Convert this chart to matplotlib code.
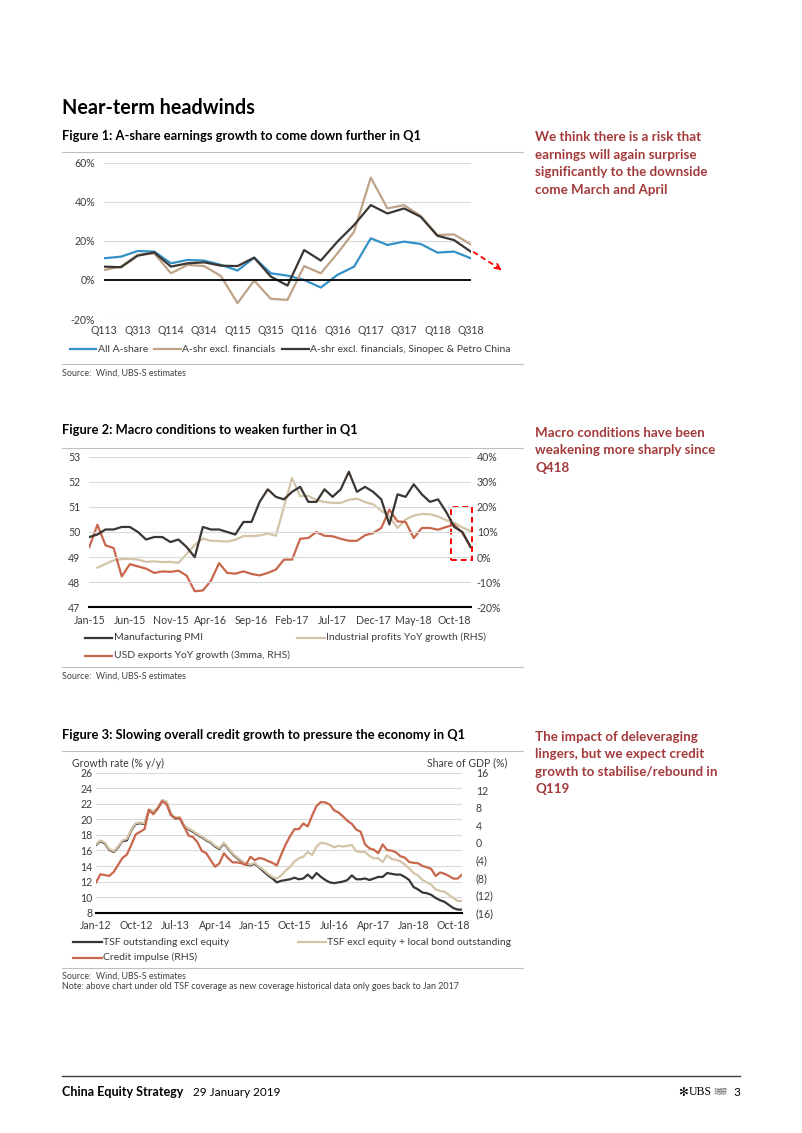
"""Recreate the 'Near-term headwinds' page (three line charts) as out.png."""

import matplotlib
matplotlib.use('Agg')
from matplotlib import pyplot
from matplotlib.lines import Line2D
from matplotlib.patches import Rectangle
import numpy as np

W, H = 802, 1133  # page size in pixels

# Figure 1: A-share earnings growth (% y/y), quarterly Q113-Q318.
quarters = ['Q113', 'Q213', 'Q313', 'Q413', 'Q114', 'Q214', 'Q314', 'Q414',
            'Q115', 'Q215', 'Q315', 'Q415', 'Q116', 'Q216', 'Q316', 'Q416',
            'Q117', 'Q217', 'Q317', 'Q417', 'Q118', 'Q218', 'Q318']
all_ashare = [11.1, 11.9, 14.8, 14.5, 8.5, 10.2, 9.9, 7.7, 4.8, 11.4, 3.4, 2.2,
              0.0, -3.9, 2.6, 6.8, 21.3, 17.9, 19.6, 18.4, 14.0, 14.5, 11.1]
excl_fin = [5.1, 6.8, 12.8, 13.6, 3.4, 7.7, 7.1, 2.0, -11.9, -0.3, -9.7, -10.2,
            7.1, 3.4, 13.6, 24.7, 52.4, 36.6, 38.3, 32.7, 23.0, 23.3, 18.2]
excl_fin_oil = [6.8, 6.5, 12.4, 14.1, 6.8, 8.5, 9.0, 7.3, 7.1, 11.4, 1.7, -2.9,
                15.3, 9.9, 19.6, 28.1, 38.3, 34.0, 36.6, 32.3, 22.6, 20.4, 14.5]

# Figure 2: macro conditions, monthly Jan-15 to Dec-18.
months2_ticks = ['Jan-15', 'Jun-15', 'Nov-15', 'Apr-16', 'Sep-16', 'Feb-17',
                 'Jul-17', 'Dec-17', 'May-18', 'Oct-18']
pmi = [49.8, 49.9, 50.1, 50.1, 50.2, 50.2, 50.0, 49.7, 49.8, 49.8, 49.6, 49.7,
       49.4, 49.0, 50.2, 50.1, 50.1, 50.0, 49.9, 50.4, 50.4, 51.2, 51.7, 51.4,
       51.3, 51.6, 51.8, 51.2, 51.2, 51.7, 51.4, 51.7, 52.4, 51.6, 51.8, 51.6,
       51.3, 50.3, 51.5, 51.4, 51.9, 51.5, 51.2, 51.3, 50.8, 50.2, 50.0, 49.4]
ind_profits = [None, -4.2, -2.7, -1.3, -0.8, -0.7, -1.0, -1.9, -1.7, -2.0, -1.9, -2.3,
               None, 4.8, 7.4, 6.5, 6.4, 6.2, 6.9, 8.4, 8.4, 8.6, 9.4, 8.5,
               None, 31.5, 24.3, 24.4, 22.7, 22.0, 21.6, 21.6, 22.8, 23.3, 21.9, 21.0,
               None, 16.1, 11.6, 15.0, 16.5, 17.2, 17.1, 16.2, 14.7, 13.6, 11.8, 10.3]
usd_exports = [4.0, 12.9, 4.7, 3.6, -7.7, -2.8, -3.7, -4.6, -6.3, -5.7, -5.9, -5.4,
               -7.4, -13.6, -13.3, -9.4, -2.4, -6.3, -6.6, -5.7, -6.7, -7.3, -6.3, -5.0,
               -1.0, -1.0, 7.3, 7.6, 10.0, 8.5, 8.3, 7.3, 6.5, 6.5, 8.7, 9.6,
               11.6, 18.9, 14.2, 14.0, 7.6, 11.6, 11.6, 10.9, 12.0, 12.9, 9.6, 4.3]

# Figure 3: credit growth, monthly Jan-12 to Dec-18.
months3_ticks = ['Jan-12', 'Oct-12', 'Jul-13', 'Apr-14', 'Jan-15', 'Oct-15',
                 'Jul-16', 'Apr-17', 'Jan-18', 'Oct-18']
tsf_excl_eq = [16.7, 17.2, 16.9, 16.1, 15.8, 16.4, 17.2, 17.3, 18.6, 19.4,
               19.5, 19.4, 21.2, 20.9, 21.4, 22.4, 22.2, 20.6, 20.1, 20.2,
               19.1, 18.7, 18.4, 18.0, 17.7, 17.3, 17.0, 16.5, 16.2, 16.9,
               16.2, 15.5, 15.0, 14.6, 14.2, 14.1, 14.3, 13.8, 13.3, 12.8,
               12.4, 11.9, 12.1, 12.2, 12.3, 12.5, 12.3, 12.4, 12.9, 12.4,
               13.1, 12.6, 12.2, 11.9, 11.8, 11.9, 12.0, 12.2, 12.8, 12.3,
               12.3, 12.4, 12.2, 12.4, 12.6, 12.6, 13.1, 13.0, 12.9, 12.9,
               12.6, 12.2, 11.3, 11.0, 10.6, 10.5, 10.3, 9.9, 9.6, 9.4,
               9.0, 8.6, 8.4, 8.4]
tsf_plus_bond = [16.8, 17.3, 17.0, 16.2, 15.9, 16.5, 17.3, 17.5, 18.7, 19.5,
                 19.6, 19.5, 21.3, 21.0, 21.5, 22.5, 22.3, 20.7, 20.2, 20.3,
                 19.2, 18.8, 18.5, 18.1, 17.8, 17.4, 17.1, 16.6, 16.3, 17.0,
                 16.3, 15.6, 15.1, 14.7, 14.3, 14.2, 14.4, 13.9, 13.5, 13.0,
                 12.6, 12.4, 12.8, 13.4, 13.9, 14.6, 15.0, 15.2, 15.8, 15.4,
                 16.5, 17.0, 16.9, 16.7, 16.4, 16.6, 16.5, 16.6, 16.7, 15.9,
                 15.8, 15.8, 15.3, 15.0, 15.0, 14.5, 15.4, 14.9, 14.8, 14.6,
                 14.2, 13.7, 13.1, 12.8, 12.2, 11.9, 11.6, 11.0, 10.8, 10.7,
                 10.3, 9.9, 9.5, 9.5]
credit_impulse = [-9.1, -7.2, -7.4, -7.6, -6.7, -5.1, -3.5, -2.7, -0.5, 1.9,
                  2.5, 3.1, 7.5, 6.5, 7.8, 9.5, 8.8, 6.3, 5.6, 5.6,
                  3.6, 1.6, 1.3, 0.1, -1.9, -2.4, -4.0, -5.5, -4.7, -2.4,
                  -3.6, -4.5, -4.5, -4.7, -5.1, -3.2, -4.0, -3.5, -3.7, -4.2,
                  -4.6, -5.2, -2.7, -0.4, 1.5, 3.1, 3.1, 4.4, 3.7, 6.2,
                  8.4, 9.3, 9.2, 8.7, 7.4, 6.9, 6.0, 5.0, 4.3, 3.0,
                  2.5, -0.4, -1.3, -1.6, -2.4, -0.4, -1.7, -1.8, -2.2, -3.1,
                  -3.4, -4.4, -4.6, -4.7, -5.3, -5.6, -6.0, -7.6, -6.8, -7.1,
                  -7.6, -8.2, -8.2, -7.3]

# Colours.
BLUE = '#3391C8'
TAN1 = '#BFA387'
TAN2 = '#D3C4A8'
DARK = '#3B3632'
RUST = '#C8674C'
GRID = '#D9D9D9'
TICK = '#3C3C3C'
NOTE = '#A33A3A'

pyplot.rcParams['font.family'] = ['Lato', 'DejaVu Sans']
fig = pyplot.figure(figsize=(W / 100, H / 100), dpi=100)


def axes_px(left, top, right, bottom):
    """Add axes from a pixel box on the page."""
    return fig.add_axes([left / W, 1 - bottom / H, (right - left) / W, (bottom - top) / H])


def text_px(x, y, s, **kw):
    kw.setdefault('va', 'center')
    return fig.text(x / W, 1 - y / H, s, **kw)


def hline_px(x0, x1, y, color='#BFBFBF', lw=0.8):
    fig.add_artist(Line2D([x0 / W, x1 / W], [1 - y / H, 1 - y / H], color=color, lw=lw))


def legend_px(x0, x1, y, color, label):
    hline_px(x0, x1, y, color=color, lw=1.6)
    text_px(x1 + 1.5, y, label, fontsize=7.5, color=TICK)


def style(ax):
    for side in ax.spines.values():
        side.set_visible(False)
    ax.tick_params(length=0, labelsize=7.6, colors=TICK)


SIDE = dict(fontsize=9.6, fontweight='bold', color=NOTE, linespacing=1.55)
SRC = dict(fontsize=6.4, color='#404040')

# Page heading.
text_px(62, 108, 'Near-term headwinds', fontsize=14.2, fontweight='bold')

# ---- Figure 1 ----
text_px(62, 136, 'Figure 1: A-share earnings growth to come down further in Q1',
        fontsize=9.3, fontweight='bold')
hline_px(62, 523, 152)
ax1 = axes_px(104.3, 162.7, 470.7, 319.0)
x1 = np.arange(len(quarters))
ax1.plot(x1, all_ashare, color=BLUE, lw=1.6)
ax1.plot(x1, excl_fin, color=TAN1, lw=1.6)
ax1.plot(x1, excl_fin_oil, color=DARK, lw=1.6)
ax1.axhline(0, color='black', lw=1.3)
ax1.set_xlim(0, 22)
ax1.set_ylim(-20, 60)
ax1.set_yticks([-20, 0, 20, 40, 60])
ax1.set_yticklabels([f'{v}%' for v in [-20, 0, 20, 40, 60]])
ax1.set_xticks(x1[::2])
ax1.set_xticklabels(quarters[::2])
ax1.grid(axis='y', color=GRID, lw=0.8)
ax1.set_axisbelow(True)
style(ax1)
ax1.tick_params(axis='y', pad=6.5)
ax1.tick_params(axis='x', pad=4.5)
# red dashed arrow pointing to Q1 2019
ax1.plot([22.15, 23.7], [14.4, 6.0], color='red', ls=(0, (3, 2)), lw=1.3, clip_on=False)
ax1.annotate('', xy=(23.85, 5.1), xytext=(23.6, 6.6), annotation_clip=False,
             arrowprops=dict(arrowstyle='->', color='red', lw=1.3, mutation_scale=9))
legend_px(70, 96, 349, BLUE, 'All A-share')
legend_px(154, 181, 349, TAN1, 'A-shr excl. financials')
legend_px(282, 309, 349, DARK, 'A-shr excl. financials, Sinopec & Petro China')
hline_px(62, 523, 364)
text_px(62, 372.7, 'Source:  Wind, UBS-S estimates', **SRC)

text_px(535, 163.4, 'We think there is a risk that\nearnings will again surprise\n'
        'significantly to the downside\ncome March and April', **SIDE)

# ---- Figure 2 ----
text_px(62, 430, 'Figure 2: Macro conditions to weaken further in Q1',
        fontsize=9.3, fontweight='bold')
hline_px(62, 523, 448)
ax2 = axes_px(89.3, 456.7, 470.5, 607.3)
x2 = np.arange(len(pmi))
ax2.set_ylim(47, 53)
ax2.set_xlim(0, 47)
ax2.set_yticks(range(47, 54))
ax2.grid(axis='y', color=GRID, lw=0.8)
ax2.set_axisbelow(True)
ax2.axhline(47, color='black', lw=1.5, clip_on=False)
ax2.set_xticks(x2[::5])
ax2.set_xticklabels(months2_ticks)
style(ax2)
ax2.tick_params(axis='y', pad=6.5)
ax2.tick_params(axis='x', pad=5.5)
ax2r = ax2.twinx()
ax2r.set_ylim(-20, 40)
ax2r.set_yticks(range(-20, 41, 10))
ax2r.set_yticklabels([f'{v}%' for v in range(-20, 41, 10)])
style(ax2r)
ax2r.tick_params(axis='y', pad=4.5)
profits = np.array([np.nan if v is None else v for v in ind_profits])
ok = ~np.isnan(profits)
ax2r.plot(x2[ok], profits[ok], color=TAN2, lw=1.6)
ax2r.plot(x2, usd_exports, color=RUST, lw=1.6)
ax2.plot(x2, pmi, color=DARK, lw=1.6)
ax2.set_zorder(ax2r.get_zorder() + 1)
ax2.patch.set_visible(False)
ax2r.patch.set_visible(True)
ax2r.add_patch(Rectangle((44.6, -1.0), 2.55, 21.0, fill=False, ec='red',
                         ls=(0, (3, 2)), lw=1.4, clip_on=False))
legend_px(85, 112, 637.7, DARK, 'Manufacturing PMI')
legend_px(297, 325, 637.7, TAN2, 'Industrial profits YoY growth (RHS)')
legend_px(85, 112, 655.7, RUST, 'USD exports YoY growth (3mma, RHS)')
hline_px(62, 523, 666.7)
text_px(62, 675.7, 'Source:  Wind, UBS-S estimates', **SRC)

text_px(535, 450.5, 'Macro conditions have been\nweakening more sharply since\nQ418', **SIDE)

# ---- Figure 3 ----
text_px(62, 735, 'Figure 3: Slowing overall credit growth to pressure the economy in Q1',
        fontsize=9.3, fontweight='bold')
hline_px(62, 523, 750.7)
text_px(72, 763, 'Growth rate (% y/y)', fontsize=7.6, color=TICK)
text_px(507, 763, 'Share of GDP (%)', fontsize=7.6, color=TICK, ha='right')
ax3 = axes_px(96, 772.7, 462.1, 912.7)
x3 = np.arange(len(tsf_excl_eq))
ax3.set_ylim(8, 26)
ax3.set_xlim(0, 83)
ax3.set_yticks(range(8, 27, 2))
ax3.grid(axis='y', color=GRID, lw=0.8)
ax3.set_axisbelow(True)
ax3.axhline(8, color='black', lw=1.5, clip_on=False)
ax3.set_xticks(x3[::9])
ax3.set_xticklabels(months3_ticks)
style(ax3)
ax3.tick_params(axis='y', pad=2.5)
ax3.tick_params(axis='x', pad=5.5)
ax3r = ax3.twinx()
ax3r.set_ylim(-16, 16)
ax3r.set_yticks(range(-16, 17, 4))
ax3r.set_yticklabels([f'({-v})' if v < 0 else f'{v}' for v in range(-16, 17, 4)])
style(ax3r)
ax3r.tick_params(axis='y', pad=10)
ax3.plot(x3, tsf_excl_eq, color=DARK, lw=1.6)
ax3.plot(x3, tsf_plus_bond, color=TAN2, lw=1.6)
ax3r.plot(x3, credit_impulse, color=RUST, lw=1.6)
legend_px(72.7, 101.7, 942.3, DARK, 'TSF outstanding excl equity')
legend_px(298, 325.7, 942.3, TAN2, 'TSF excl equity + local bond outstanding')
legend_px(72.7, 101.7, 957.7, RUST, 'Credit impulse (RHS)')
hline_px(62, 523, 967.7)
text_px(62, 976, 'Source:  Wind, UBS-S estimates', **SRC)
text_px(62, 986.7, 'Note: above chart under old TSF coverage as new coverage historical '
        'data only goes back to Jan 2017', **SRC)

text_px(535, 762.9, 'The impact of deleveraging\nlingers, but we expect credit\n'
        'growth to stabilise/rebound in\nQ119', **SIDE)

# ---- Footer ----
hline_px(62, 740, 1076, color='#404040', lw=1.0)
text_px(62, 1092, 'China Equity Strategy', fontsize=9.0, fontweight='bold')
text_px(193, 1092, '29 January 2019', fontsize=8.5)
text_px(740, 1092, '3', fontsize=8.5, ha='right')
text_px(728, 1092, '瑞銀', fontsize=5, ha='right', color='#606060',
        family=['Noto Sans CJK TC', 'DejaVu Sans'])
text_px(712, 1092, 'UBS', fontsize=8.5, ha='right', family='Liberation Serif')
text_px(688, 1092, '✻', fontsize=8.5, ha='right', family='DejaVu Sans')

fig.savefig('out.png', dpi=100)
